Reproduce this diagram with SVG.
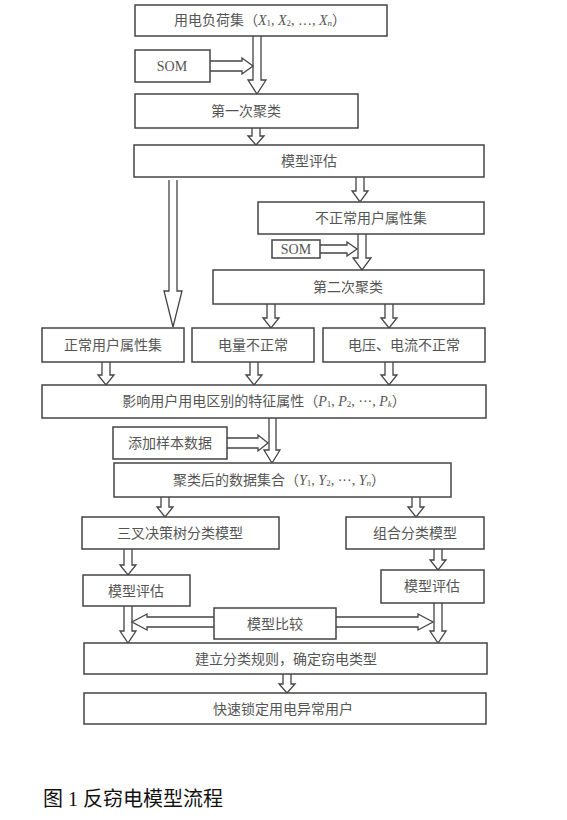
<svg xmlns="http://www.w3.org/2000/svg" width="567" height="820" viewBox="0 0 567 820">
<style>
.box{fill:#fff;stroke:#444;stroke-width:1.5}
.arr{fill:#fff;stroke:#444;stroke-width:1.3;stroke-linejoin:miter}
.t{font-family:"Liberation Serif","Noto Sans CJK SC",serif;font-size:14px;fill:#555;text-anchor:middle;dominant-baseline:central}
.i{font-style:italic}
.s{font-size:9px}
.cap{font-family:"Liberation Serif","Noto Sans CJK SC",serif;font-size:20px;fill:#111}
</style>
<rect width="567" height="820" fill="#fff"/>
<g id="connectors">
<path class="arr" d="M253,36 V80 H248 L257,94 L266,80 H261 V36"/>
<path class="arr" d="M210,61 H242 V58 L253,66 L242,74 V71 H210"/>
<path class="arr" d="M252,128 V136 H248 L256,145 L264,136 H260 V128"/>
<path class="arr" d="M356,177 V191 H352 L360,202 L368,191 H364 V177"/>
<path class="arr" d="M358,234 V258 H353 L362,270 L371,258 H366 V234"/>
<path class="arr" d="M320,245 H347 V242 L357,249 L347,256 V253 H320"/>
<path class="arr" d="M169,180 V291 H164 L173,327 L182,291 H177 V180"/>
<path class="arr" d="M267,304 V318 H263 L271,328 L279,318 H275 V304"/>
<path class="arr" d="M385,304 V318 H381 L389,328 L397,318 H393 V304"/>
<path class="arr" d="M102,362 V375 H98 L106,385 L114,375 H110 V362"/>
<path class="arr" d="M250,362 V375 H246 L254,385 L262,375 H258 V362"/>
<path class="arr" d="M385,362 V375 H381 L389,385 L397,375 H393 V362"/>
<path class="arr" d="M269,418 V450 H264 L272,463 L280,450 H276 V418"/>
<path class="arr" d="M227,438 H258 V435 L268,443 L258,451 V448 H227"/>
<path class="arr" d="M161,497 V507 H157 L165,517 L173,507 H169 V497"/>
<path class="arr" d="M412,497 V507 H408 L416,517 L424,507 H420 V497"/>
<path class="arr" d="M124,549 V565 H120 L128,575 L136,565 H132 V549"/>
<path class="arr" d="M434,549 V560 H430 L438,570 L446,560 H442 V549"/>
<path class="arr" d="M124,606 V631 H120 L128,643 L136,631 H132 V606"/>
<path class="arr" d="M434,603 V631 H430 L438,643 L446,631 H442 V603"/>
<path class="arr" d="M214,617 H147 V614 L132,622 L147,630 V627 H214"/>
<path class="arr" d="M336,617 H418 V614 L433,622 L418,630 V627 H336"/>
<path class="arr" d="M283,674 V684 H279 L287,693 L295,684 H291 V674"/>
</g>
<g id="n1"><rect class="box" x="135" y="5" width="252" height="31"/><text class="t" x="260" y="20">用电负荷集（<tspan class="i">X</tspan><tspan class="s" dy="3">1</tspan><tspan dy="-3">, </tspan><tspan class="i">X</tspan><tspan class="s" dy="3">2</tspan><tspan dy="-3">, …, </tspan><tspan class="i">X</tspan><tspan class="s i" dy="3">n</tspan><tspan dy="-3">）</tspan></text></g>
<g id="som1"><rect class="box" x="135" y="50" width="75" height="32"/><text class="t" x="172" y="66">SOM</text></g>
<g id="n2"><rect class="box" x="135" y="94" width="223" height="34"/><text class="t" x="246" y="111">第一次聚类</text></g>
<g id="n3"><rect class="box" x="134" y="145" width="350" height="32"/><text class="t" x="309" y="161">模型评估</text></g>
<g id="n4"><rect class="box" x="258" y="202" width="226" height="32"/><text class="t" x="371" y="218">不正常用户属性集</text></g>
<g id="som2"><rect class="box" x="272" y="240" width="48" height="18"/><text class="t" x="296" y="249">SOM</text></g>
<g id="n5"><rect class="box" x="213" y="270" width="271" height="34"/><text class="t" x="348" y="287">第二次聚类</text></g>
<g id="n6"><rect class="box" x="42" y="328" width="142" height="34"/><text class="t" x="113" y="345">正常用户属性集</text></g>
<g id="n7"><rect class="box" x="192" y="328" width="122" height="34"/><text class="t" x="253" y="345">电量不正常</text></g>
<g id="n8"><rect class="box" x="323" y="328" width="162" height="34"/><text class="t" x="404" y="345">电压、电流不正常</text></g>
<g id="n9"><rect class="box" x="42" y="385" width="444" height="33"/><text class="t" x="264" y="401">影响用户用电区别的特征属性（<tspan class="i">P</tspan><tspan class="s" dy="3">1</tspan><tspan dy="-3">, </tspan><tspan class="i">P</tspan><tspan class="s" dy="3">2</tspan><tspan dy="-3">, ···, </tspan><tspan class="i">P</tspan><tspan class="s i" dy="3">k</tspan><tspan dy="-3">）</tspan></text></g>
<g id="n10"><rect class="box" x="113" y="427" width="114" height="32"/><text class="t" x="170" y="443">添加样本数据</text></g>
<g id="n11"><rect class="box" x="114" y="463" width="337" height="34"/><text class="t" x="279" y="480">聚类后的数据集合（<tspan class="i">Y</tspan><tspan class="s" dy="3">1</tspan><tspan dy="-3">, </tspan><tspan class="i">Y</tspan><tspan class="s" dy="3">2</tspan><tspan dy="-3">, ···, </tspan><tspan class="i">Y</tspan><tspan class="s i" dy="3">n</tspan><tspan dy="-3">）</tspan></text></g>
<g id="n12"><rect class="box" x="82" y="517" width="197" height="32"/><text class="t" x="180" y="533">三叉决策树分类模型</text></g>
<g id="n13"><rect class="box" x="346" y="517" width="138" height="32"/><text class="t" x="415" y="533">组合分类模型</text></g>
<g id="n14"><rect class="box" x="83" y="575" width="107" height="31"/><text class="t" x="136" y="591">模型评估</text></g>
<g id="n15"><rect class="box" x="381" y="570" width="103" height="33"/><text class="t" x="432" y="586">模型评估</text></g>
<g id="n16"><rect class="box" x="214" y="608" width="122" height="31"/><text class="t" x="275" y="624">模型比较</text></g>
<g id="n17"><rect class="box" x="84" y="643" width="403" height="31"/><text class="t" x="286" y="659">建立分类规则，确定窃电类型</text></g>
<g id="n18"><rect class="box" x="84" y="693" width="402" height="31"/><text class="t" x="283" y="709">快速锁定用电异常用户</text></g>
<text class="cap" x="43" y="806">图 1 反窃电模型流程</text>
</svg>
